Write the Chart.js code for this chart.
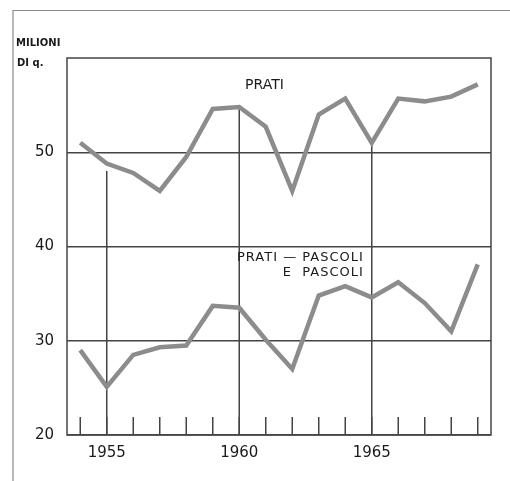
<!DOCTYPE html>
<html>
<head>
<meta charset="utf-8">
<script src="https://cdn.jsdelivr.net/npm/chart.js@4"></script>
<style>
html,body{margin:0;padding:0;background:#fff;}
#wrap{position:relative;width:510px;height:481px;}
</style>
</head>
<body>
<div id="wrap"><canvas id="c" width="510" height="481"></canvas></div>
<script>
const years = [1954,1955,1956,1957,1958,1959,1960,1961,1962,1963,1964,1965,1966,1967,1968,1969];
const prati = [51.0,48.8,47.8,45.9,49.5,54.6,54.8,52.7,45.9,54.0,55.7,51.0,55.7,55.4,55.9,57.2];
const pascoli = [29.0,25.1,28.5,29.3,29.5,33.7,33.5,30.1,27.0,34.8,35.8,34.6,36.2,34.0,31.0,38.1];
const yTickLabels = [20,30,40,50];
const xTickLabels = [1955,1960,1965];
const vLineYears = [1955,1960,1965];
const vLineTops = [48.0,54.8,51.0];
const yearTickTop = 21.9;
const yTitle = ["MILIONI","DI q."];
const seriesLabels = {prati:["PRATI"], pascoli:["PRATI \u2014 PASCOLI","E  PASCOLI"]};

const lineColor = '#8c8c8c';
const gridColor = '#444';

function segs(xs, y0, tops){
  const out=[];
  xs.forEach((x,i)=>{ out.push({x:x,y:y0}); out.push({x:x,y:Array.isArray(tops)?tops[i]:tops}); out.push({x:x,y:null}); });
  return out;
}

const frame = {
  id:'frame',
  beforeDraw(chart){
    const ctx=chart.ctx;
    ctx.save();
    ctx.strokeStyle='#8a8a8a'; ctx.lineWidth=1.2;
    ctx.beginPath(); ctx.moveTo(13,481); ctx.lineTo(13,10.5); ctx.lineTo(510,10.5); ctx.stroke();
    ctx.restore();
  },
  afterDraw(chart){
    const ctx=chart.ctx, a=chart.chartArea;
    const xs=chart.scales.x, ys=chart.scales.y;
    ctx.save();
    ctx.strokeStyle=gridColor; ctx.lineWidth=1.5;
    ctx.strokeRect(a.left,a.top,a.right-a.left,a.bottom-a.top);
    ctx.fillStyle='#1a1a1a';
    ctx.textBaseline='middle';
    ctx.font='bold 10px "DejaVu Sans"';
    ctx.textAlign='left';
    ctx.fillText(yTitle[0],16,43);
    ctx.fillText(yTitle[1],17,63);
    ctx.font='14px "DejaVu Sans"';
    ctx.textAlign='center';
    ctx.fillText(seriesLabels.prati[0], xs.getPixelForValue(1960.95), ys.getPixelForValue(57.1));
    ctx.font='13px "DejaVu Sans"';
    ctx.letterSpacing='1px';
    ctx.textAlign='right';
    const rx = xs.getPixelForValue(1964.7);
    ctx.fillText(seriesLabels.pascoli[0], rx, ys.getPixelForValue(38.77));
    ctx.fillText(seriesLabels.pascoli[1], rx, ys.getPixelForValue(37.18));
    ctx.restore();
  }
};

new Chart(document.getElementById('c'),{
  type:'line',
  data:{datasets:[
    {data:years.map((y,i)=>({x:y,y:prati[i]})),borderColor:lineColor,borderWidth:4.5,pointRadius:0,tension:0,order:0},
    {data:years.map((y,i)=>({x:y,y:pascoli[i]})),borderColor:lineColor,borderWidth:4.5,pointRadius:0,tension:0,order:0},
    {data:segs(vLineYears,20,vLineTops),borderColor:gridColor,borderWidth:1.5,pointRadius:0,spanGaps:false,order:1},
    {data:segs(years,20,yearTickTop),borderColor:gridColor,borderWidth:1.5,pointRadius:0,spanGaps:false,order:1}
  ]},
  options:{
    responsive:false,animation:false,
    layout:{padding:{left:0,top:58,right:19,bottom:0}},
    plugins:{legend:{display:false},tooltip:{enabled:false}},
    scales:{
      x:{type:'linear',min:1953.5,max:1969.5,
        afterBuildTicks:s=>{s.ticks=xTickLabels.map(v=>({value:v}));},
        afterFit:s=>{s.height=46;},
        grid:{display:false},border:{display:false},
        ticks:{padding:1,color:'#1a1a1a',font:{family:'DejaVu Sans',size:15},callback:v=>String(v),maxRotation:0}
      },
      y:{min:20,max:60,
        afterBuildTicks:s=>{s.ticks=yTickLabels.map(v=>({value:v}));},
        afterFit:s=>{s.width=67;},
        grid:{color:gridColor,lineWidth:1.5,drawTicks:false},border:{display:false},
        ticks:{padding:13,color:'#1a1a1a',font:{family:'DejaVu Sans',size:15}}
      }
    }
  },
  plugins:[frame]
});
</script>
</body>
</html>
